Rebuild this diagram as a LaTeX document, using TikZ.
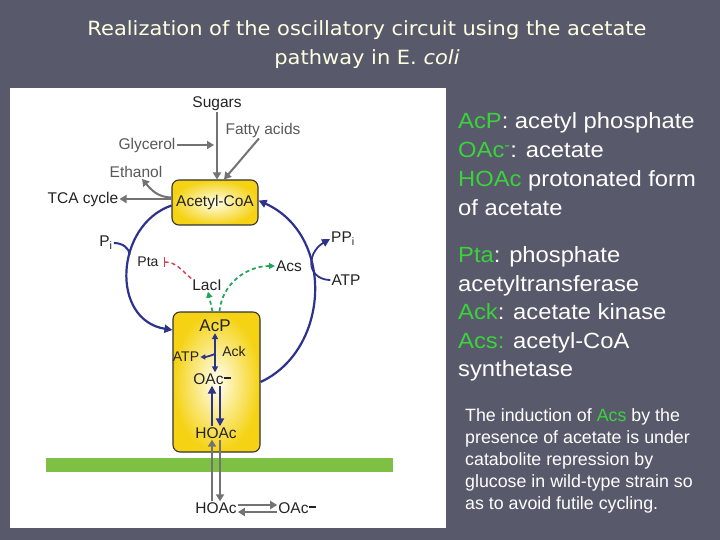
\documentclass[tikz,border=0pt]{standalone}
\usepackage{fontspec}
\setmainfont{Liberation Sans}
\newfontfamily\titlefont[FakeStretch=1.07]{DejaVu Sans}
\newfontfamily\keyfont[FakeStretch=1.08]{Liberation Sans}
\usetikzlibrary{arrows.meta}

\definecolor{slate}{RGB}{88,90,108}
\definecolor{cream}{RGB}{255,255,225}
\definecolor{keyg}{RGB}{60,210,60}
\definecolor{navy}{RGB}{45,50,140}
\definecolor{arrg}{RGB}{115,115,115}
\definecolor{inhib}{RGB}{215,60,75}
\definecolor{actg}{RGB}{30,165,85}
\definecolor{memb}{RGB}{125,192,68}
\definecolor{gold}{RGB}{245,210,20}
\definecolor{txt}{RGB}{35,35,35}

\tikzset{
  lbl/.style={font=\fontsize{15.5}{17}\selectfont, text=txt, inner sep=1pt},
  small/.style={lbl, font=\fontsize{14}{15}\selectfont},
  pool/.style={draw=black!80, line width=1.1pt, rounded corners=7pt,
    inner color=yellow!6!white, outer color=gold},
  flux/.style={draw=arrg, line width=2.6pt, -{Triangle[length=7pt,width=8pt]}},
  cyc/.style={draw=navy, line width=2.2pt, -{Triangle[length=8pt,width=8pt]}},
  act/.style={draw=actg, line width=1.7pt, dash pattern=on 4pt off 3pt,
    -{Triangle[length=6pt,width=6pt]}},
  rep/.style={draw=inhib, line width=1.4pt, dash pattern=on 4pt off 3pt,
    -{Bar[width=10pt,line width=1.6pt]}},
  keytext/.style={anchor=north west, align=left, inner sep=0pt, text=white},
}

\begin{document}
\begin{tikzpicture}[x=1pt,y=1pt]
\useasboundingbox (0,0) rectangle (720,-540);
\fill[slate] (0,0) rectangle (720,-540);
\fill[white] (10,-88) rectangle (446,-528);

% title
\node[text=cream, font=\titlefont\fontsize{19.6}{22}\selectfont] (title1) at (367,-30)
  {Realization of the oscillatory circuit using the acetate};
\node[text=cream, font=\titlefont\fontsize{19.6}{22}\selectfont] (title2) at (367,-59)
  {pathway in E. \textit{coli}};

% legend
\node[keytext, font=\keyfont\fontsize{22}{29}\selectfont] (key1) at (458,-112.5)
  {\textcolor{keyg}{AcP}: acetyl phosphate\\
   \textcolor{keyg}{OAc\textsuperscript{-}}: acetate\\
   \textcolor{keyg}{HOAc} protonated form\\
   of acetate};
\node[keytext, font=\keyfont\fontsize{22}{28.5}\selectfont] (key2) at (458,-246.5)
  {\textcolor{keyg}{Pta}: phosphate\\
   acetyltransferase\\
   \textcolor{keyg}{Ack}: acetate kinase\\
   \textcolor{keyg}{Acs:} acetyl-CoA\\
   synthetase};
\node[keytext, font=\fontsize{17.8}{22}\selectfont] (note) at (465,-408)
  {The induction of \textcolor{keyg}{Acs} by the\\
   presence of acetate is under\\
   catabolite repression by\\
   glucose in wild-type strain so\\
   as to avoid futile cycling.};

% membrane
\fill[memb] (46,-458) rectangle (393,-472);

% pools
\node[pool, lbl, minimum width=86pt, minimum height=45pt] (acoa) at (215,-202.5) {Acetyl-CoA};
\node[pool, minimum width=87pt, minimum height=140pt] (cell) at (216.5,-382) {};

% labels
\node[lbl] (sugars) at (217,-104) {Sugars};
\node[lbl, text=black!65] (fatty) at (263,-130) {Fatty acids};
\node[lbl, text=black!65] (glycerol) at (147,-145) {Glycerol};
\node[lbl, text=black!65] (ethanol) at (136,-172) {Ethanol};
\node[lbl] (tca) at (83,-199) {TCA cycle};
\node[lbl] (pi) at (106,-243) {P\textsubscript{i}};
\node[small] (pta) at (148,-262) {Pta};
\node[lbl] (laci) at (207,-285) {LacI};
\node[lbl] (acs) at (289,-266) {Acs};
\node[lbl] (ppi) at (343,-239) {PP\textsubscript{i}};
\node[lbl] (atpr) at (346,-280) {ATP};
\node[lbl, font=\fontsize{17}{18}\selectfont] (acp) at (215,-326) {AcP};
\node[lbl] (oac) at (212,-379) {OAc\raisebox{0.6ex}{\rule{7pt}{2.6pt}}};
\node[lbl] (hoac) at (216,-433) {HOAc};
\node[small] (ack) at (234,-351) {Ack};
\node[small] (atpl) at (186,-357) {ATP};
\node[lbl] (hoacout) at (216,-508) {HOAc};
\node[lbl] (oacout) at (297,-508) {OAc\raisebox{0.6ex}{\rule{7pt}{2.6pt}}};

% feeding and draining acetyl-CoA
\coordinate (sg) at (214,-145);
\draw[flux] (sugars.south) -- (sugars.south |- acoa.north);
\draw[flux] (glycerol.east) -- (sg);
\draw[flux, line width=2pt] ([xshift=-4pt]fatty.south) -- ([xshift=9pt]acoa.north);
\draw[flux] (acoa.west |- tca.east) -- (tca.east);
\draw[flux, line width=2pt] ([yshift=5pt]acoa.west) to[out=180,in=-50] ([xshift=6pt]ethanol.south);

% the cycle
\draw[cyc] ([yshift=-3pt]acoa.west) .. controls (115,-225) and (110,-320) ..
  ([yshift=52pt]cell.west) coordinate[pos=0.4] (lj);
\draw[navy, line width=2pt] (pi.east) to[out=0,in=90] (lj);
\draw[cyc] (cell.east) .. controls (330,-350) and (335,-235) ..
  ([yshift=2pt]acoa.east) coordinate[pos=0.62] (rj);
\draw[cyc, line width=1.8pt] (rj) to[out=95,in=-150] (ppi.west);
\draw[navy, line width=1.8pt] (atpr.west) to[out=180,in=-80] (rj);

% regulation
\draw[rep] (laci.north west) to[out=140,in=0] ([xshift=4pt]pta.east);
\draw[act] ([xshift=-4pt]cell.north) -- ([xshift=1pt]laci.south);
\draw[act] ([xshift=3pt]cell.north) to[out=85,in=180] (acs.west);

% inside the cell
\coordinate (ab) at (215,-354);
\draw[navy, line width=2.6pt, {Triangle[length=6pt,width=6pt]}-{Triangle[length=6pt,width=6pt]}]
  (acp.south) -- (acp.south |- oac.north);
\draw[navy, line width=1.8pt, -{Triangle[length=5pt,width=5pt]}] (ab) to[out=200,in=0] (atpl.east);
\draw[cyc, line width=2.6pt] ([xshift=-4pt]hoac.north) -- ([xshift=-4pt]hoac.north |- oac.south);
\draw[cyc, line width=2.6pt] ([xshift=4pt]hoac.north |- oac.south) -- ([xshift=4pt]hoac.north);

% across the membrane
\draw[flux] ([xshift=-4pt]hoacout.north) -- ([xshift=-4pt]hoac.south);
\draw[flux] ([xshift=4pt]hoac.south) -- ([xshift=4pt]hoacout.north);
\draw[flux, line width=2pt] ([yshift=3pt]hoacout.east) -- ([yshift=3pt]oacout.west);
\draw[flux, line width=2pt] ([yshift=-4pt]oacout.west) -- ([yshift=-4pt]hoacout.east);
\end{tikzpicture}
\end{document}
